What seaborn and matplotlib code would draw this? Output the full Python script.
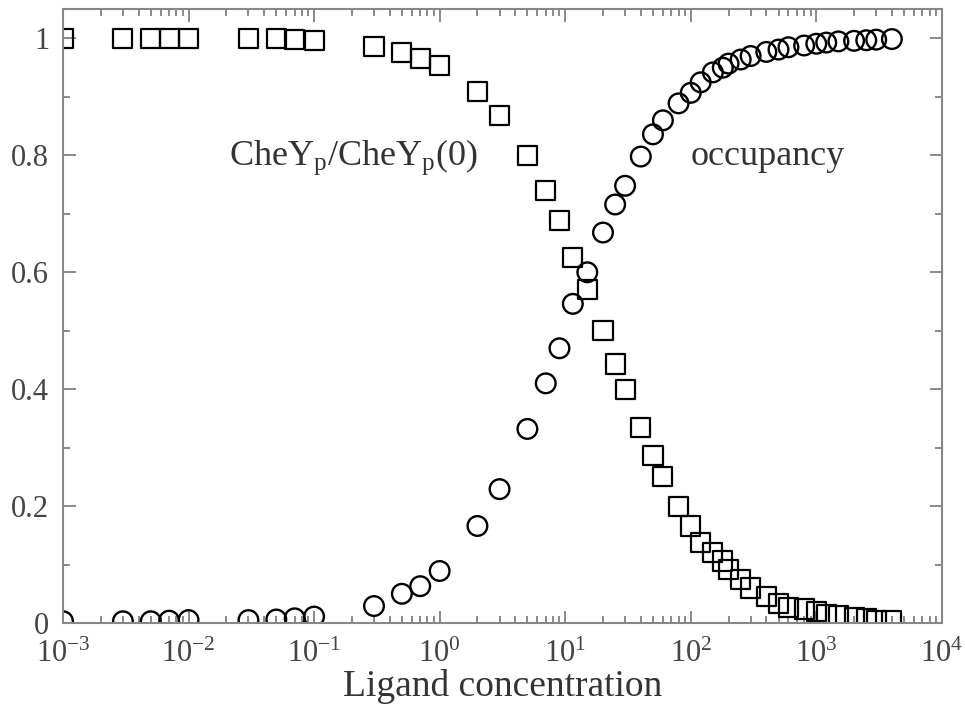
import numpy as np
import pandas as pd
import seaborn as sns
import matplotlib.pyplot as plt
from matplotlib.ticker import LogLocator, MultipleLocator, NullFormatter

# ligand concentrations (same grid for both curves)
conc = [0.001, 0.003, 0.005, 0.007, 0.01, 0.03, 0.05, 0.07, 0.1,
        0.3, 0.5, 0.7, 1, 2, 3, 5, 7, 9, 11.5, 15, 20, 25, 30, 40, 50, 60,
        80, 100, 120, 150, 180, 200, 250, 300, 400, 500, 600, 800, 1000,
        1200, 1500, 2000, 2500, 3000, 4000]

# CheY_p / CheY_p(0)  (squares)
chey = [1.0, 1.0, 1.0, 1.0, 1.0, 1.0, 1.0, 0.998, 0.997,
        0.986, 0.976, 0.966, 0.954, 0.909, 0.868, 0.80, 0.74, 0.688, 0.625, 0.57,
        0.50, 0.443, 0.399, 0.334, 0.286, 0.25,
        0.199, 0.166, 0.137, 0.12, 0.106, 0.092, 0.075, 0.06, 0.046, 0.034,
        0.026, 0.024, 0.019, 0.015, 0.012, 0.009, 0.007, 0.005, 0.004]

# receptor occupancy  (circles)
occ = [0.003, 0.003, 0.003, 0.004, 0.005, 0.005, 0.006, 0.008, 0.011,
       0.029, 0.05, 0.063, 0.089, 0.166, 0.229, 0.332, 0.41, 0.47, 0.546, 0.60,
       0.668, 0.716, 0.748, 0.798, 0.836, 0.86,
       0.889, 0.907, 0.925, 0.942, 0.95, 0.957, 0.964, 0.97, 0.977, 0.981,
       0.985, 0.988, 0.991, 0.993, 0.995, 0.996, 0.997, 0.998, 0.999]

yticks = [0, 0.2, 0.4, 0.6, 0.8, 1.0]
ylabels = ['0', '0.2', '0.4', '0.6', '0.8', '1']

df = pd.DataFrame({'conc': conc, 'chey': chey, 'occ': occ})

sns.set_style('ticks')
plt.rcParams['font.family'] = ['Liberation Serif', 'DejaVu Serif']
plt.rcParams['mathtext.fontset'] = 'custom'
plt.rcParams['mathtext.rm'] = 'Liberation Serif'
plt.rcParams['mathtext.it'] = 'Liberation Serif'
plt.rcParams['axes.unicode_minus'] = False

fig = plt.figure(figsize=(9.65, 7.12), dpi=100)
ax = fig.add_axes([0.0653, 0.125, 0.9107, 0.862])

sns.scatterplot(x='conc', y='chey', data=df, ax=ax, marker='s', s=190,
                facecolor='none', edgecolor='black', linewidth=1.6)
sns.scatterplot(x='conc', y='occ', data=df, ax=ax, marker='o', s=200,
                facecolor='none', edgecolor='black', linewidth=1.7)

ax.set_xscale('log')
ax.set_xlim(1e-3, 1e4)
ax.set_ylim(0, 1.05)

ax.xaxis.set_major_locator(LogLocator(base=10, numticks=20))
ax.xaxis.set_minor_locator(LogLocator(base=10, subs=np.arange(2, 10), numticks=20))
ax.xaxis.set_minor_formatter(NullFormatter())
ax.yaxis.set_minor_locator(MultipleLocator(0.1))
ax.set_yticks(yticks)
ax.set_yticklabels(ylabels)

ax.tick_params(which='both', direction='in', top=True, right=True,
               colors='#777777', labelcolor='#444444', labelsize=22, width=1.2)
ax.tick_params(which='major', length=9)
ax.tick_params(which='minor', length=5)
ax.tick_params(axis='x', which='major', pad=12)
ax.tick_params(axis='y', which='major', pad=10)
for sp in ax.spines.values():
    sp.set_color('#888888')
    sp.set_linewidth(1.5)

ax.set_xlabel('Ligand concentration', fontsize=27, color='#333333', labelpad=0)
ax.set_ylabel('')

ax.text(0.021, 0.783, r'CheY$_\mathrm{p}$/CheY$_\mathrm{p}$(0)', fontsize=26,
        color='#333333', ha='left', va='baseline')
ax.text(99, 0.783, 'occupancy', fontsize=26, color='#333333',
        ha='left', va='baseline')

fig.savefig('out.png', dpi=100)
